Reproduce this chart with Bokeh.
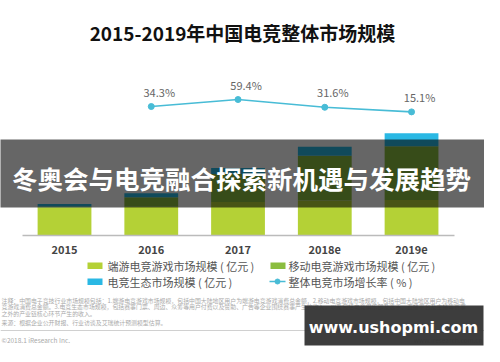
from bokeh.plotting import figure
from bokeh.models import ColumnDataSource, Range1d
from bokeh.core.properties import value
from bokeh.embed import file_html
from bokeh.resources import INLINE

# ---- data ----
years = ["2015", "2016", "2017", "2018e", "2019e"]
pc_market = [300, 310, 360, 375, 380]        # 端游电竞游戏市场规模（亿元）
mobile_market = [12, 100, 299, 481, 577]     # 移动电竞游戏市场规模（亿元）
eco_market = [26, 44, 65, 97, 140]           # 电竞生态市场规模（亿元）
growth_years = ["2016", "2017", "2018e", "2019e"]
growth_rate = [34.3, 59.4, 31.6, 15.1]       # 整体电竞市场增长率（%）

title_text = "2015-2019年中国电竞整体市场规模"
legend_labels = ["端游电竞游戏市场规模 ( 亿元 )", "移动电竞游戏市场规模 ( 亿元 )",
                 "电竞生态市场规模 ( 亿元 )", "整体电竞市场增长率 ( % )"]
banner_text = "冬奥会与电竞融合探索新机遇与发展趋势"
watermark_text = "www.ushopmi.com"
notes = [
    "注释：中国电子竞技行业市场规模包括：1.端游电竞游戏市场规模，包括中国大陆地区用户为端游电竞游戏消费总金额，2.移动电竞游戏市场规模，包括中国大陆地区用户为移动电",
    "竞游戏消费总金额。3.电竞生态市场规模，包括赛事门票、周边、众筹等用户付费以及赞助、广告等企业围绕赛事产生的收入，以及包括电竞俱乐部及选手、直播平台及主播等赛事",
    "之外的产业链核心环节产生的收入。",
    "来源：根据企业公开财报、行业访谈及艾瑞统计预测模型估算。",
]
copyright_text = "©2018.1 iResearch Inc."
site_text = "www.iresearch.com.cn"

C_PC = "#b4d136"
C_MOB = "#8bbd3f"
C_ECO = "#2ab8e4"
C_LINE = "#48bcd6"
CJK = value("Noto Sans CJK SC")

W, H = 484, 346
p = figure(width=W, height=H, output_backend="svg", toolbar_location=None,
           x_range=Range1d(-0.7378, 4.841), y_range=Range1d(-1191, 2522),
           x_axis_location=None, y_axis_location=None, min_border=0)
p.outline_line_color = None
p.grid.visible = False
p.background_fill_color = "white"
p.border_fill_color = "white"
p.extra_x_ranges = {"px": Range1d(0, W)}
p.extra_y_ranges = {"py": Range1d(H, 0), "rate": Range1d(-825.8, 414.3)}

idx = list(range(len(years)))
src = ColumnDataSource(dict(x=idx, years=years, pc=pc_market, mob=mobile_market, eco=eco_market))
p.vbar_stack(["pc", "mob", "eco"], x="x", width=0.62, color=[C_PC, C_MOB, C_ECO],
             line_color=None, source=src)

# growth line
gx = [years.index(y) for y in growth_years]
gsrc = ColumnDataSource(dict(x=gx, r=growth_rate, lab=[f"{v}%" for v in growth_rate]))
p.line("x", "r", source=gsrc, y_range_name="rate", line_color=C_LINE, line_width=1.6)
p.scatter("x", "r", source=gsrc, y_range_name="rate", size=6, fill_color=C_LINE, line_color=C_LINE)
p.text("x", "r", text="lab", source=gsrc, y_range_name="rate", x_offset=8, y_offset=-7,
       text_align="center", text_baseline="bottom", text_font=CJK, text_font_size="11px",
       text_color="#666666")

# baseline
p.line([22, 454], [235, 235], x_range_name="px", y_range_name="py", line_color="#bbbbbb", line_width=1.5)

# category labels
p.text("x", value(249), text="years", source=src, y_range_name="py", text_align="center",
       text_baseline="middle", text_font=CJK, text_font_size="11px", text_font_style="bold",
       text_color="#444444")

# title
p.text([242], [32], text=[title_text], x_range_name="px", y_range_name="py", text_align="center",
       text_baseline="middle", text_font=CJK, text_font_size="19px", text_font_style="bold",
       text_color="#111111")

# legend
p.quad(left=[87, 270, 87], right=[102, 285, 102], top=[262, 262, 278], bottom=[268.5, 268.5, 284.5],
       x_range_name="px", y_range_name="py", fill_color=[C_PC, C_MOB, C_ECO], line_color=None)
p.line([269, 285], [281, 281], x_range_name="px", y_range_name="py", line_color=C_LINE, line_width=1.6)
p.scatter([277], [281], x_range_name="px", y_range_name="py", size=5, fill_color=C_LINE, line_color=C_LINE)
p.text([107, 288, 107, 288], [265, 265, 281, 281], text=legend_labels, x_range_name="px", y_range_name="py",
       text_baseline="middle", text_font=CJK, text_font_size="11px", text_color="#555555")

# footnotes
p.text([1, 1, 1, 1], [300, 306, 313, 322], text=notes, x_range_name="px", y_range_name="py",
       text_baseline="middle", text_font=CJK, text_font_size="5.9px", text_color="#aaaaaa")
p.line([0, 484], [330, 330], x_range_name="px", y_range_name="py", line_color="#d0d0d0", line_width=1)
p.text([1], [339], text=[copyright_text], x_range_name="px", y_range_name="py",
       text_baseline="middle", text_font=CJK, text_font_size="6.5px", text_color="#aaaaaa")
p.text([482], [339], text=[site_text], x_range_name="px", y_range_name="py", text_align="right",
       text_baseline="middle", text_font=CJK, text_font_size="6.5px", text_color="#aaaaaa")

# banner overlay
p.quad(left=[-1], right=[485], top=[139], bottom=[207], x_range_name="px", y_range_name="py",
       fill_color="black", fill_alpha=0.6, line_color=None)
p.text([241], [177], text=[banner_text], x_range_name="px", y_range_name="py", text_align="center",
       text_baseline="middle", text_font=CJK, text_font_size="25.5px", text_font_style="bold",
       text_color="white")

# watermark box
p.quad(left=[304], right=[483], top=[305], bottom=[345], x_range_name="px", y_range_name="py",
       fill_color="#333333", fill_alpha=0.95, line_color=None)
p.text([393], [327], text=[watermark_text], x_range_name="px", y_range_name="py", text_align="center",
       text_baseline="middle", text_font=value("DejaVu Sans"), text_font_size="16px",
       text_font_style="bold", text_color="white")

open("out.html", "w").write(file_html(p, INLINE))
